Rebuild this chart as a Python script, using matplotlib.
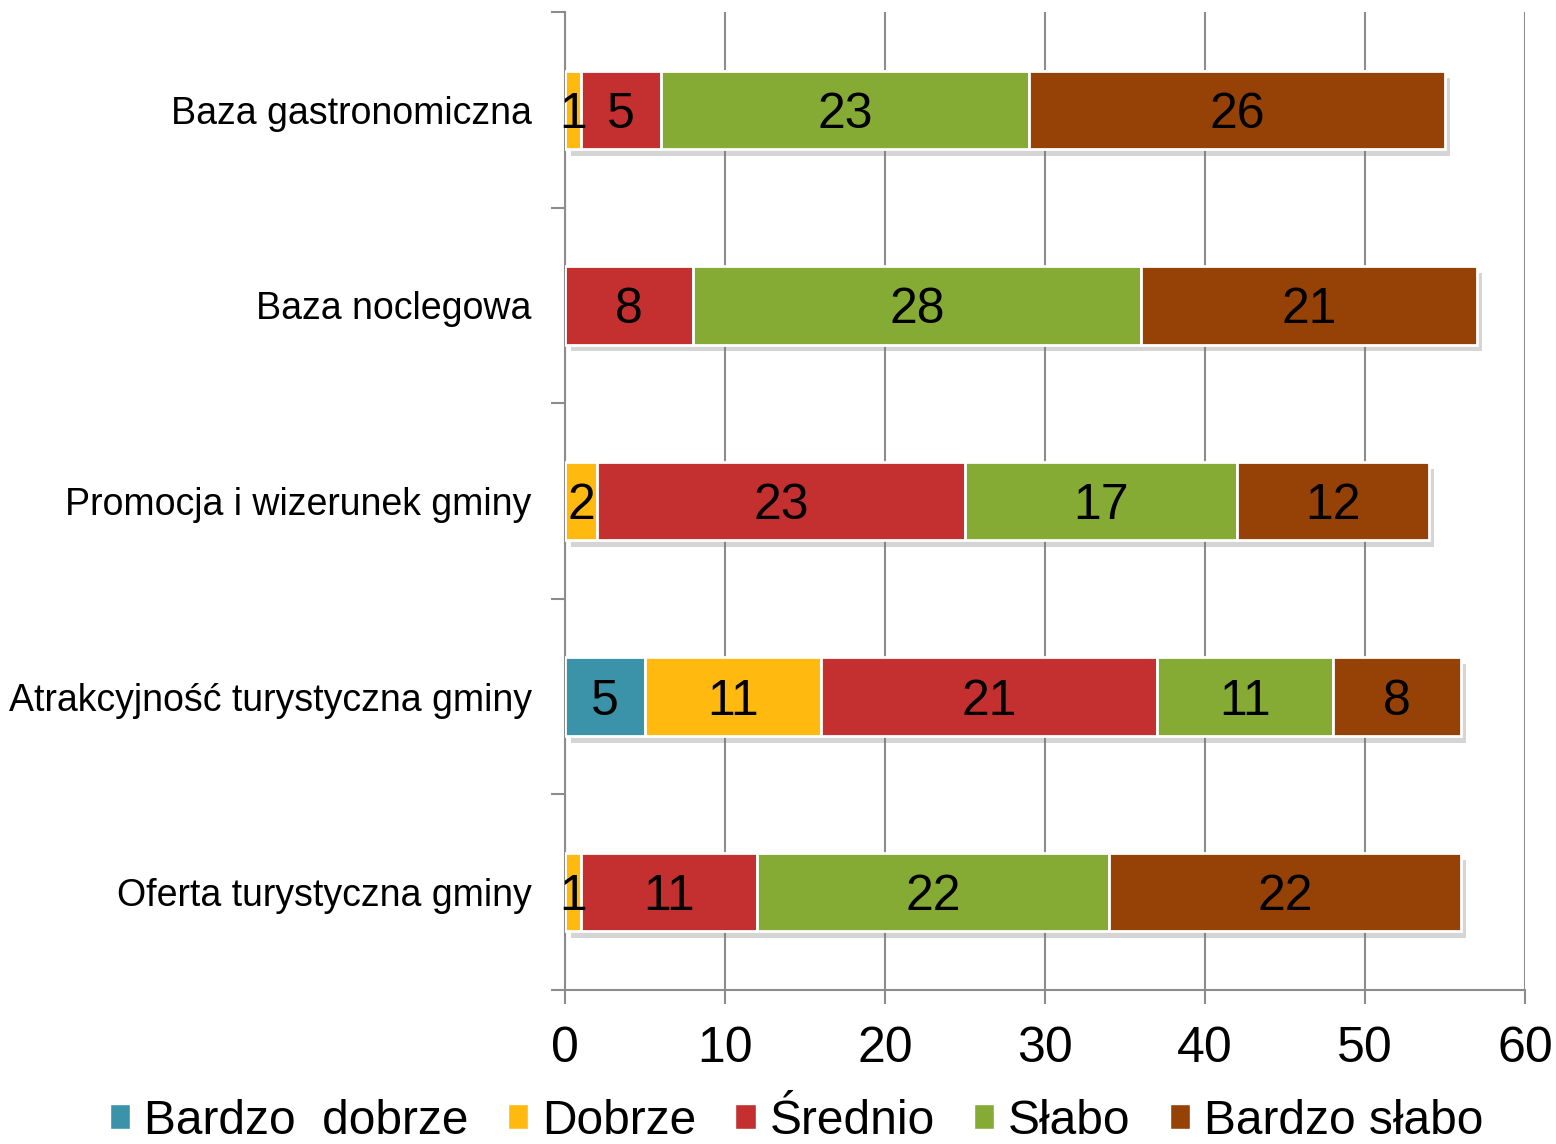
"""Stacked horizontal bar chart of tourism ratings per category."""

import matplotlib

matplotlib.use("Agg")
import matplotlib.pyplot as plt
import matplotlib.patheffects as pe
from matplotlib.patches import Patch
import numpy as np

categories = [
    "Baza gastronomiczna",
    "Baza noclegowa",
    "Promocja i wizerunek gminy",
    "Atrakcyjność turystyczna gminy",
    "Oferta turystyczna gminy",
]
series_names = ["Bardzo  dobrze", "Dobrze", "Średnio", "Słabo", "Bardzo słabo"]
bardzo_dobrze = [0, 0, 0, 5, 0]
dobrze = [1, 0, 2, 11, 1]
srednio = [5, 8, 23, 21, 11]
slabo = [23, 28, 17, 11, 22]
bardzo_slabo = [26, 21, 12, 8, 22]
colors = ["#3A93A9", "#FFB90F", "#C3302F", "#86AB35", "#964206"]
x_ticks = [0, 10, 20, 30, 40, 50, 60]

plt.rcParams["font.family"] = ["Liberation Sans", "DejaVu Sans"]

fig = plt.figure(figsize=(15.56, 11.44), dpi=100)
ax = fig.add_axes([0.3631, 0.1346, 0.6169, 0.8549])

series = [bardzo_dobrze, dobrze, srednio, slabo, bardzo_slabo]
y = np.arange(len(categories))
left = np.zeros(len(categories))
shadow = [pe.SimplePatchShadow(offset=(4, -5), shadow_rgbFace="#777777", alpha=0.3), pe.Normal()]

for vals, color in zip(series, colors):
    vals = np.array(vals, dtype=float)
    bars = ax.barh(y, vals, left=left, height=0.4, color=color,
                   edgecolor="white", linewidth=2, zorder=3)
    for b, v in zip(bars, vals):
        if v > 0:
            b.set_path_effects(shadow)
            ax.text(b.get_x() + v / 2, b.get_y() + b.get_height() / 2 + 0.025, f"{int(v)}",
                    ha="center", va="center", fontsize=36, color="black", zorder=5)
    left += vals

ax.set_xlim(0, 60)
ax.set_ylim(len(categories) - 0.5, -0.5)
ax.set_xticks(x_ticks)
ax.set_xticklabels([str(t) for t in x_ticks], fontsize=36)
ax.set_yticks(y)
ax.set_yticklabels(categories, fontsize=27)
ax.set_yticks(np.arange(-0.5, len(categories), 1.0), minor=True)

ax.grid(axis="x", color="#8c8c8c", linewidth=1.5, zorder=0)
for side in ["top", "right"]:
    ax.spines[side].set_visible(False)
for side in ["left", "bottom"]:
    ax.spines[side].set_color("#8c8c8c")
    ax.spines[side].set_linewidth(1.5)

ax.tick_params(axis="y", which="major", length=0, pad=24)
ax.tick_params(axis="y", which="minor", length=10, width=1.5, color="#8c8c8c")
ax.tick_params(axis="x", length=10, width=1.5, color="#8c8c8c", pad=16)

handles = [Patch(facecolor=c, edgecolor="white", linewidth=1) for c in colors]
fig.legend(handles, series_names, loc="center", bbox_to_anchor=(0.512, 1 - 1121 / 1144),
           ncol=5, frameon=False, fontsize=34.5, handlelength=0.42, handleheight=0.42,
           handletextpad=0.29, columnspacing=0.82, borderpad=0, borderaxespad=0)

fig.savefig("out.png", dpi=100)
plt.close(fig)
